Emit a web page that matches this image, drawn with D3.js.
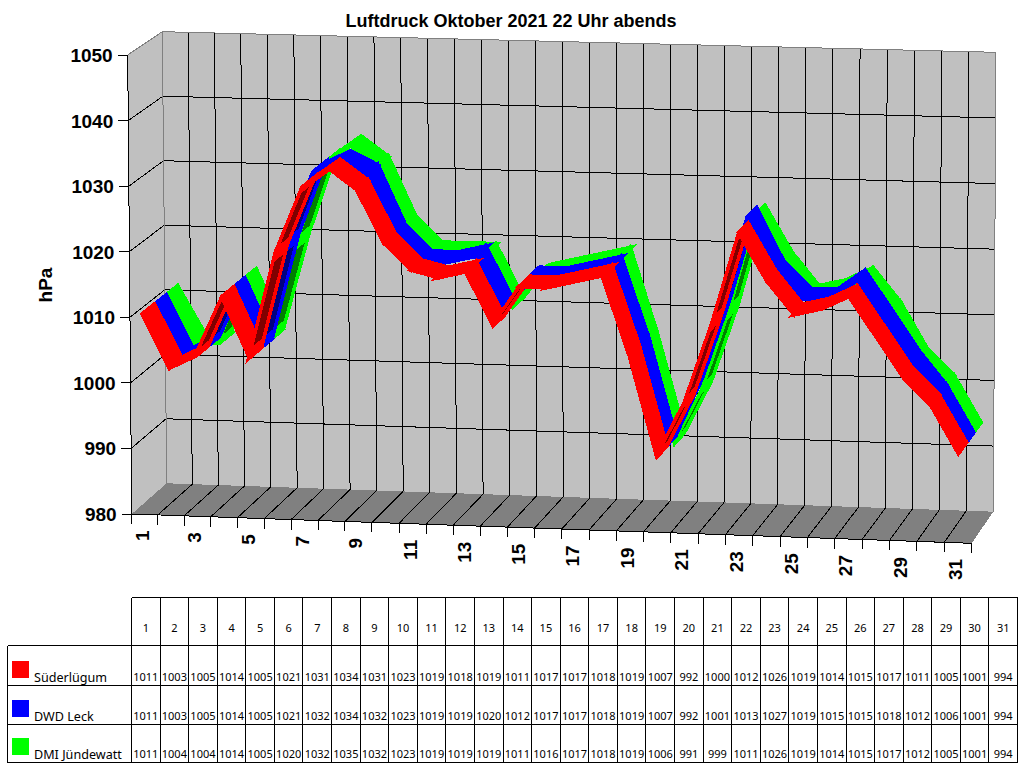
<!DOCTYPE html>
<html>
<head>
<meta charset="utf-8">
<title>Luftdruck Oktober 2021</title>
<script src="https://d3js.org/d3.v7.min.js"></script>
<style>
  html, body { margin: 0; padding: 0; background: #fff; }
  svg { display: block; }
  .heavy { font-family: "Liberation Sans", Arial, sans-serif; font-weight: bold; fill: #000; }
  .cell  { font-family: "Noto Sans", Tahoma, sans-serif; font-size: 11px; fill: #000; }
  .name  { font-family: "Noto Sans", Tahoma, sans-serif; font-size: 12.6px; fill: #000; }
</style>
</head>
<body>
<script>
// Daily 22:00 air pressure readings, hPa
const days = d3.range(1, 32);
const stations = ["Süderlügum", "DWD Leck", "DMI Jündewatt"];
const suederluegum = [1011,1003,1005,1014,1005,1021,1031,1034,1031,1023,1019,1018,1019,1011,1017,1017,1018,1019,1007,992,1000,1012,1026,1019,1014,1015,1017,1011,1005,1001,994];
const leck         = [1011,1003,1005,1014,1005,1021,1032,1034,1032,1023,1019,1019,1020,1012,1017,1017,1018,1019,1007,992,1001,1013,1027,1019,1015,1015,1018,1012,1006,1001,994];
const juendewatt   = [1011,1004,1004,1014,1005,1020,1032,1035,1032,1023,1019,1019,1019,1011,1016,1017,1018,1019,1006,991,999,1011,1026,1019,1014,1015,1017,1012,1005,1001,994];
const readings = [suederluegum, leck, juendewatt];
const brightColors = ["#ff0000", "#0000ff", "#00ff00"];
const shadeColors  = ["#800000", "#000080", "#008000"];
const valueTicks = d3.range(980, 1051, 10);

const svg = d3.select("body").append("svg").attr("width", 1024).attr("height", 768);

// Corners of the oblique 3D box
const box = {
  frontBottomLeft:  [131.7, 514],   frontBottomRight: [971.7, 543.3],
  frontTopLeft:     [127.7, 55],    frontTopRight:    [974.2, 76.3],
  backBottomLeft:   [166.7, 483.3], backBottomRight:  [993.3, 511.7],
  backTopLeft:      [162.3, 31.7],  backTopRight:     [996, 52.3]
};
const dayScale = d3.scalePow().exponent(1.012).domain([0, 31]).range([0, 1]);
const valueScale = d3.scaleLinear().domain([980, 1050]).range([0, 1]);
const depthScale = d3.scaleLinear().domain([0, stations.length]).range([0, 1]);

const mix = (a, b, k) => [a[0] + (b[0] - a[0]) * k, a[1] + (b[1] - a[1]) * k];
function project(dayPos, value, depth) {
  const u = dayScale(dayPos), v = valueScale(value), w = depthScale(depth);
  const fb = mix(box.frontBottomLeft, box.frontBottomRight, u);
  const ft = mix(box.frontTopLeft, box.frontTopRight, u);
  const bb = mix(box.backBottomLeft, box.backBottomRight, u);
  const bt = mix(box.backTopLeft, box.backTopRight, u);
  return mix(mix(fb, ft, v), mix(bb, bt, v), w);
}
const polygon = pts => "M" + pts.map(p => p.join(",")).join("L") + "Z";
const D = stations.length, N = days.length;

const chart = svg.append("g").attr("shape-rendering", "crispEdges");

// Walls and floor
chart.append("path").attr("fill", "#c0c0c0")
  .attr("d", polygon([project(0,980,D), project(N,980,D), project(N,1050,D), project(0,1050,D)]));
chart.append("path").attr("fill", "#c0c0c0")
  .attr("d", polygon([project(0,980,0), project(0,980,D), project(0,1050,D), project(0,1050,0)]));
chart.append("path").attr("fill", "#808080")
  .attr("d", polygon([project(0,980,0), project(N,980,0), project(N,980,D), project(0,980,D)]));

const segment = (a, b, color) => chart.append("line")
  .attr("x1", a[0]).attr("y1", a[1]).attr("x2", b[0]).attr("y2", b[1])
  .attr("stroke", color).attr("stroke-width", 1);

// Gridlines
valueTicks.filter(v => v > 980 && v < 1050).forEach(v => {
  segment(project(0, v, 0), project(0, v, D), "#000");
  segment(project(0, v, D), project(N, v, D), "#000");
});
d3.range(1, N).forEach(t => segment(project(t, 980, D), project(t, 1050, D), "#000"));
d3.range(1, N).forEach(t => segment(project(t, 980, 0), project(t, 980, D), "#000"));

// Wall outline
segment(project(0, 1050, 0), project(0, 1050, D), "#808080");
segment(project(0, 1050, D), project(N, 1050, D), "#808080");
segment(project(0, 980, D), project(0, 1050, D), "#808080");
segment(project(N, 980, D), project(N, 1050, D), "#808080");

// Ribbons, rear station first. A strip seen from below shows its shaded side inside a bright rim.
const ribbonDrop = 3;
const dropped = p => [p[0], p[1] + ribbonDrop];
d3.range(D - 1, -1, -1).forEach(s => {
  const g = chart.append("g").attr("stroke", brightColors[s]).attr("stroke-linejoin", "miter");
  const vals = readings[s];
  d3.range(N - 1).forEach(i => {
    const a = dropped(project(i + 0.5, vals[i], s)), b = dropped(project(i + 1.5, vals[i + 1], s));
    const c = dropped(project(i + 1.5, vals[i + 1], s + 1)), d = dropped(project(i + 0.5, vals[i], s + 1));
    const cross = (b[0] - a[0]) * (d[1] - a[1]) - (b[1] - a[1]) * (d[0] - a[0]);
    g.append("path").attr("d", polygon([a, b, c, d]))
      .attr("fill", brightColors[s]).attr("stroke-width", 5);
    if (cross > 0) {
      const inset = 0.08;
      const a2 = mix(a, b, inset), b2 = mix(b, a, inset), c2 = mix(c, d, inset), d2 = mix(d, c, inset);
      g.append("path").attr("d", polygon([a2, b2, c2, d2]))
        .attr("fill", shadeColors[s]).attr("stroke-width", 2);
    }
  });
});

// Value axis
segment(project(0, 980, 0), project(0, 1050, 0), "#000");
valueTicks.forEach(v => {
  const p = project(0, v, 0);
  segment([p[0] - 10, p[1]], p, "#000");
  svg.append("text").attr("class", "heavy").attr("font-size", 19)
    .attr("text-anchor", "end").attr("x", p[0] - 15).attr("y", p[1] + 7).text(v);
});

// Day axis
segment(project(0, 980, 0), project(N, 980, 0), "#000");
d3.range(0, N + 1).forEach(t => {
  const p = project(t, 980, 0);
  segment(p, [p[0], p[1] + 10], "#000");
});
days.filter(d => d % 2 === 1).forEach(d => {
  const p = project(d - 0.5, 980, 0);
  svg.append("text").attr("class", "heavy").attr("font-size", 19)
    .attr("text-anchor", "end")
    .attr("transform", `translate(${p[0] + 4},${p[1] + 16}) rotate(-90)`)
    .text(d);
});

// Titles
svg.append("text").attr("class", "heavy").attr("font-size", 18)
  .attr("text-anchor", "middle").attr("x", 511).attr("y", 27)
  .text("Luftdruck Oktober 2021 22 Uhr abends");
svg.append("text").attr("class", "heavy").attr("font-size", 19)
  .attr("text-anchor", "middle")
  .attr("transform", "translate(52,285) rotate(-90)").text("hPa");

// Data table
const colX = d3.scaleLinear().domain([0, N]).range([131.5, 1017.5]);
const rowEdges = [597.5, 645.5, 685.5, 724.5, 762.5];
const tableLeft = 7.5;
const table = svg.append("g");
const rule = (x1, y1, x2, y2) => table.append("line")
  .attr("x1", x1).attr("y1", y1).attr("x2", x2).attr("y2", y2)
  .attr("stroke", "#000").attr("stroke-width", 1).attr("shape-rendering", "crispEdges");

rule(colX(0), rowEdges[0], colX(N), rowEdges[0]);
rowEdges.slice(1).forEach(y => rule(tableLeft, y, colX(N), y));
rule(tableLeft, rowEdges[1], tableLeft, rowEdges[4]);
d3.range(0, N + 1).forEach(c => rule(colX(c), rowEdges[0], colX(c), rowEdges[4]));

days.forEach((d, c) => {
  table.append("text").attr("class", "cell").attr("text-anchor", "middle")
    .attr("x", (colX(c) + colX(c + 1)) / 2).attr("y", 632).text(d);
});
const rowBaselines = [681, 720, 758];
stations.forEach((name, s) => {
  table.append("rect").attr("x", 12).attr("y", rowBaselines[s] - 20)
    .attr("width", 17).attr("height", 17).attr("fill", brightColors[s]);
  table.append("text").attr("class", "name").attr("x", 34).attr("y", rowBaselines[s] + 1).text(name);
  readings[s].forEach((val, c) => {
    table.append("text").attr("class", "cell").attr("text-anchor", "middle")
      .attr("x", (colX(c) + colX(c + 1)) / 2).attr("y", rowBaselines[s]).text(val);
  });
});
</script>
</body>
</html>
